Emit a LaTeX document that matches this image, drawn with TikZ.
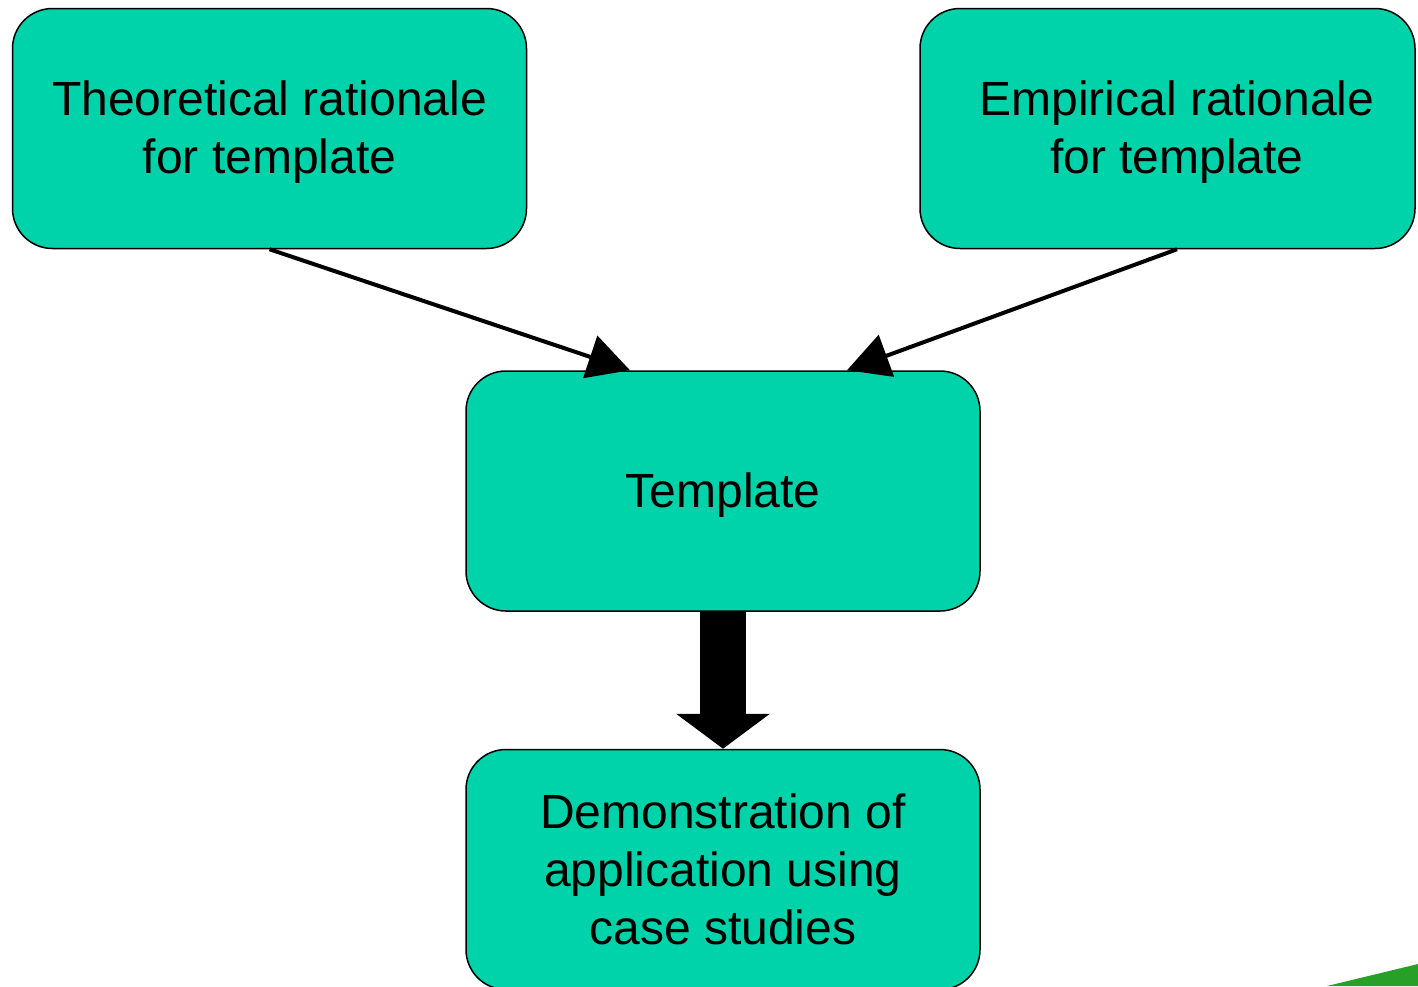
\documentclass[tikz,border=0pt]{standalone}
\usepackage{fontspec}
\setmainfont{Liberation Sans}
\usetikzlibrary{arrows.meta,calc}
\definecolor{boxgreen}{RGB}{0,210,170}
\definecolor{swoosh}{RGB}{40,160,40}
\tikzset{
  box/.style={draw=black, line width=0.75pt, fill=boxgreen, rounded corners=20pt,
    minimum width=257pt, minimum height=120pt, inner sep=0pt},
  label/.style={font=\fontsize{24}{29}\selectfont, align=center},
  link/.style={line width=2pt, -{Triangle[width=22pt,length=21pt]}}
}
\begin{document}
  \begin{tikzpicture}[x=0.5pt,y=-0.5pt]
    \useasboundingbox (0,0) rectangle (1418,986);
    % boxes
    \node[box] (theo) at (269.5,128.5) {};
    \node[box, minimum width=247.5pt] (emp) at (1167.5,128.5) {};
    \node[box] (tmpl) at (723,491) {};
    \node[box] (demo) at (723,869.5) {};
    % texts
    \node[label, yshift=-2pt] (theotxt) at (theo.center) {Theoretical rationale\\for template};
    \node[label, yshift=-2pt] (emptxt) at ($(emp.center)+(9.5,0)$) {Empirical rationale\\for template};
    \node[label, yshift=-2pt] (tmpltxt) at (tmpl.center) {Template};
    \node[label] (demotxt) at (demo.center) {Demonstration of\\application using\\case studies};
    % arrows
    \coordinate (inl) at ($(tmpl.north)+(-93,0)$);
    \coordinate (inr) at ($(tmpl.north)+(124,0)$);
    \coordinate (empout) at ($(emp.south)+(9.5,0)$);
    \draw[link] (theo.south) -- (inl);
    \draw[link] (empout) -- (inr);
    \draw[line width=23pt, -{Triangle[width=46pt,length=17.5pt]}] (tmpl.south) -- (demo.north);
    % corner swoosh
    \fill[swoosh] (1327,986) -- (1418,964) -- (1418,986) -- cycle;
  \end{tikzpicture}
\end{document}
